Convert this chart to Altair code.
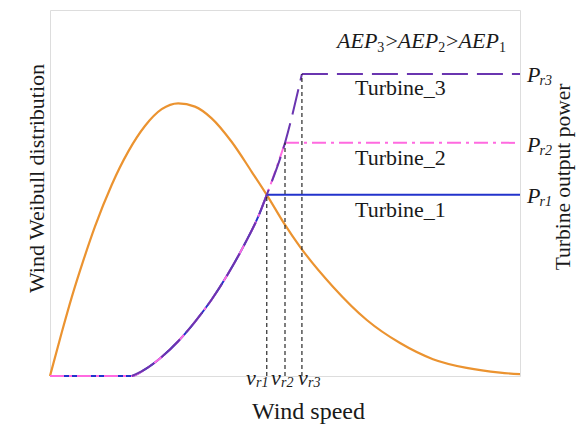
import altair as alt
import pandas as pd

# ---------------- data ----------------
# Weibull wind distribution (x: wind speed, y: relative density)
weib_v = [0, 0.62, 1.15, 1.77, 2.39, 3.28, 4.16, 5.05, 5.94, 6.82, 7.71, 8.60, 9.66,
          10.73, 11.53, 12.45, 13.30, 15.05, 16.85, 18.62, 20.37, 22.16, 23.94, 25.0]
weib_d = [0, 0.118, 0.214, 0.315, 0.408, 0.522, 0.613, 0.683, 0.729, 0.745, 0.736, 0.704,
          0.640, 0.558, 0.495, 0.417, 0.353, 0.244, 0.153, 0.090, 0.046, 0.022, 0.009, 0.005]

# common power curve (below rated speed)
curve_v = [0, 4.35, 5.05, 5.94, 6.82, 7.71, 8.60, 9.48, 10.37, 11.08, 11.53, 12.5, 13.4]
curve_p = [0, 0, 0.018, 0.052, 0.095, 0.148, 0.209, 0.280, 0.362, 0.436, 0.495, 0.637, 0.825]

turbines = ["Turbine_1", "Turbine_2", "Turbine_3"]
rated_v = [11.53, 12.5, 13.4]
rated_p = [0.495, 0.637, 0.825]
start_v = [0, 0, 4.35]
v_max = 25.0

colors = ["#2233cc", "#ff6ae0", "#6a35b0"]
dashes = [None, [14, 5, 3, 5], [26, 9]]

FONT = "Liberation Serif, Times New Roman, Times, serif"
INK = "#1a1a1a"

# ---------------- scales / axes ----------------
xs = alt.Scale(domain=[0, v_max], nice=False, zero=False)
ys = alt.Scale(domain=[0, 1], nice=False, zero=False)

x_axis = alt.Axis(title="Wind speed", labels=False, ticks=False, domain=False, grid=False,
                  titleFont=FONT, titleFontSize=24, titleFontWeight="normal", titleColor=INK,
                  titleX=258, titleY=42, titleBaseline="alphabetic", titleAlign="center")
left_axis = alt.Axis(title="Wind Weibull distribution", labels=False, ticks=False, domain=False,
                     grid=False, titleFont=FONT, titleFontSize=22, titleFontWeight="normal",
                     titleColor=INK, titleAngle=270, titleX=-7, titleY=168,
                     titleBaseline="alphabetic", titleAlign="center")
right_axis = alt.Axis(title="Turbine output power", orient="right", labels=False, ticks=False,
                      domain=False, grid=False, titleFont=FONT, titleFontSize=21.5,
                      titleFontWeight="normal", titleColor=INK, titleAngle=270, titleX=49.5,
                      titleY=166.5, titleBaseline="alphabetic", titleAlign="center")

X = alt.X("v:Q", scale=xs, axis=x_axis)
YP = alt.Y("p:Q", scale=ys, axis=right_axis)

# ---------------- Weibull layer (left axis) ----------------
weib_df = pd.DataFrame({"v": weib_v, "w": weib_d})
weib = alt.Chart(weib_df).mark_line(color="#eb9330", strokeWidth=2.2, interpolate="monotone").encode(
    x=X, y=alt.Y("w:Q", scale=ys, axis=left_axis)
)

# ---------------- turbine power curves (right axis) ----------------
layers = []
for name, rv, rp, sv, col, dash in zip(turbines, rated_v, rated_p, start_v, colors, dashes):
    vv = [v for v in curve_v if sv <= v <= rv]
    pp = [p for v, p in zip(curve_v, curve_p) if sv <= v <= rv]
    rise = pd.DataFrame({"v": vv, "p": pp})
    flat = pd.DataFrame({"v": [rv, v_max], "p": [rp, rp]})
    kw = dict(color=col, strokeWidth=2)
    if dash:
        kw["strokeDash"] = dash
    layers.append(alt.Chart(rise).mark_line(interpolate="monotone", **kw).encode(x=X, y=YP))
    layers.append(alt.Chart(flat).mark_line(**kw).encode(x=X, y=YP))

rule_df = pd.DataFrame({"v": rated_v, "p0": [0, 0, 0], "p": rated_p})
rules = alt.Chart(rule_df).mark_rule(color="#2a2a2a", strokeWidth=1.2, strokeDash=[4, 3]).encode(
    x=X, y=alt.Y("p0:Q", scale=ys, axis=right_axis), y2="p:Q"
)

# ---------------- text annotations ----------------
ital = pd.DataFrame({
    "t": ["AEP", "AEP", "AEP",
          "P", "r3", "P", "r2", "P", "r1",
          "v", "r1", "v", "r2", "v", "r3"],
    "v": [15.27, 18.50, 21.73,
          25.37, 26.04, 25.37, 26.04, 25.37, 26.04,
          10.43, 10.96, 11.76, 12.29, 13.19, 13.72],
    "p": [0.896, 0.896, 0.896,
          0.803, 0.795, 0.612, 0.604, 0.473, 0.465,
          -0.025, -0.030, -0.025, -0.030, -0.025, -0.030],
    "s": [22, 22, 22,
          22, 14, 22, 14, 22, 14,
          22, 14, 22, 14, 22, 14],
})
norm = pd.DataFrame({
    "t": ["3", ">", "2", ">", "1"],
    "v": [17.41, 17.84, 20.65, 21.07, 23.88],
    "p": [0.885, 0.896, 0.885, 0.896, 0.885],
    "s": [14, 22, 14, 22, 14],
})
labels = pd.DataFrame({
    "t": turbines,
    "v": [18.64, 18.64, 18.64],
    "p": [0.434, 0.577, 0.768],
})

t_ital = alt.Chart(ital).mark_text(font=FONT, fontStyle="italic", align="left",
                                   baseline="alphabetic", color=INK).encode(
    x=X, y=YP, text="t:N", size=alt.Size("s:Q", scale=None))
t_norm = alt.Chart(norm).mark_text(font=FONT, align="left", baseline="alphabetic",
                                   color=INK).encode(
    x=X, y=YP, text="t:N", size=alt.Size("s:Q", scale=None))
t_lab = alt.Chart(labels).mark_text(font=FONT, fontSize=22, align="center",
                                    baseline="alphabetic", color=INK).encode(
    x=X, y=YP, text="t:N")

right = alt.layer(*layers, rules, t_ital, t_norm, t_lab)

chart = alt.layer(weib, right).resolve_scale(y="independent").properties(
    width=470, height=366,
    autosize=alt.AutoSizeParams(type="none"),
    padding={"left": 42, "top": 2, "right": 56, "bottom": 48},
).configure_view(stroke="#777777", strokeWidth=1.2).configure(background="white")

chart.save("out.html", embed_options={"renderer": "svg", "actions": False})
